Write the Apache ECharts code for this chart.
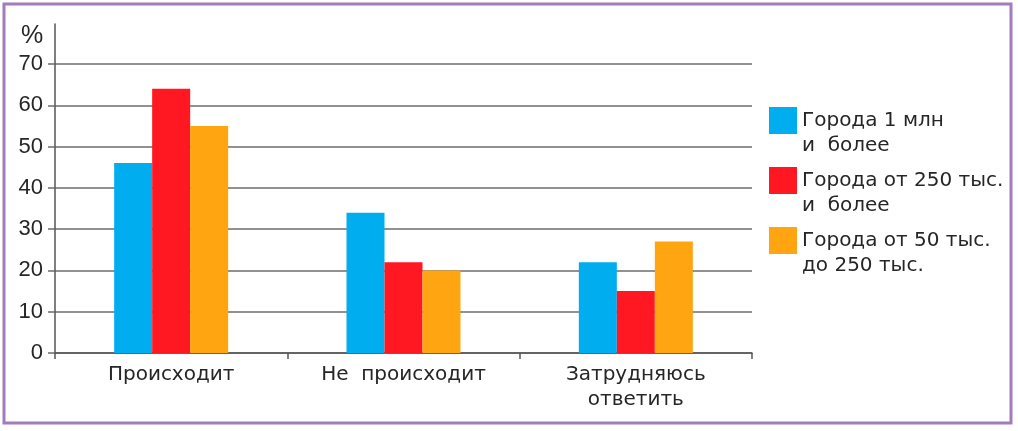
<!DOCTYPE html>
<html>
<head>
<meta charset="utf-8">
<script src="https://cdn.jsdelivr.net/npm/echarts@6/dist/echarts.min.js"></script>
<style>
  html, body { margin: 0; padding: 0; background: #fff; }
  #chart { width: 1018px; height: 431px; box-sizing: border-box; }
</style>
</head>
<body>
<div id="chart"></div>
<script>
// answers and city groups
var categories = ['Происходит', 'Не  происходит', 'Затрудняюсь\nответить'];
var seriesNames = ['Города 1 млн\nи  более', 'Города от 250 тыс.\nи  более', 'Города от 50 тыс.\nдо 250 тыс.'];
var bigCities = [46, 34, 22];
var midCities = [64, 22, 15];
var smallCities = [55, 20, 27];
var yTicks = [0, 10, 20, 30, 40, 50, 60, 70];

var colors = ['#00aeef', '#ff1722', '#ffa512'];
var textFont = 'DejaVu Sans';
var numFont = 'Liberation Sans';
var textColor = '#262626';
var gridColor = '#6c6c6c';

var chart = echarts.init(document.getElementById('chart'));

var values = [bigCities, midCities, smallCities];
var series = seriesNames.map(function (name, i) {
    return {
        name: name,
        type: 'bar',
        xAxisIndex: 0,
        yAxisIndex: 0,
        barWidth: 38,
        barGap: '0%',
        itemStyle: { color: colors[i] },
        data: values[i]
    };
});

var option = {
    backgroundColor: '#ffffff',
    animation: false,
    title: {
        text: '%',
        left: 21,
        top: 24,
        padding: 0,
        textStyle: { fontFamily: numFont, fontSize: 25, fontWeight: 'normal', color: textColor }
    },
    legend: {
        orient: 'vertical',
        left: 769,
        top: 83,
        padding: 0,
        itemGap: -15,
        itemWidth: 28,
        itemHeight: 27,
        icon: 'rect',
        selectedMode: false,
        data: seriesNames,
        // empty first line pushes the text down next to the square
        formatter: function (name) { return '\n' + name; },
        textStyle: {
            fontFamily: textFont,
            fontSize: 20,
            lineHeight: 25,
            color: textColor
        }
    },
    grid: [
        // data grid
        { left: 55, right: 266, top: 64, bottom: 78 },
        // only the tall y axis line
        { left: 55, right: 266, top: 24, bottom: 78 }
    ],
    xAxis: [
        {
            type: 'category',
            gridIndex: 0,
            data: categories,
            axisLine: { lineStyle: { color: '#555', width: 1.5 } },
            axisTick: { show: true, length: 6, alignWithLabel: false, lineStyle: { color: '#555', width: 1.5 } },
            axisLabel: {
                margin: 9,
                fontFamily: textFont,
                fontSize: 20,
                lineHeight: 25,
                color: textColor
            }
        },
        { type: 'category', gridIndex: 1, data: categories, show: false }
    ],
    yAxis: [
        {
            type: 'value',
            gridIndex: 0,
            min: yTicks[0],
            max: yTicks[yTicks.length - 1],
            interval: 10,
            axisLine: { show: false },
            axisTick: { show: true, length: 7, lineStyle: { color: gridColor, width: 1.5 } },
            splitLine: { lineStyle: { color: gridColor, width: 1.5 } },
            axisLabel: {
                margin: 12,
                fontFamily: numFont,
                fontSize: 22,
                color: textColor
            }
        },
        {
            type: 'value',
            gridIndex: 1,
            min: 0,
            max: 1,
            axisLine: { show: true, lineStyle: { color: '#555', width: 1.5 } },
            axisTick: { show: false },
            axisLabel: { show: false },
            splitLine: { show: false }
        }
    ],
    graphic: [
        {
            type: 'rect',
            shape: { x: 4, y: 4, width: 1007, height: 419 },
            style: { fill: 'none', stroke: '#a27cbd', lineWidth: 3 },
            silent: true
        }
    ],
    series: series
};

chart.setOption(option);
</script>
</body>
</html>
